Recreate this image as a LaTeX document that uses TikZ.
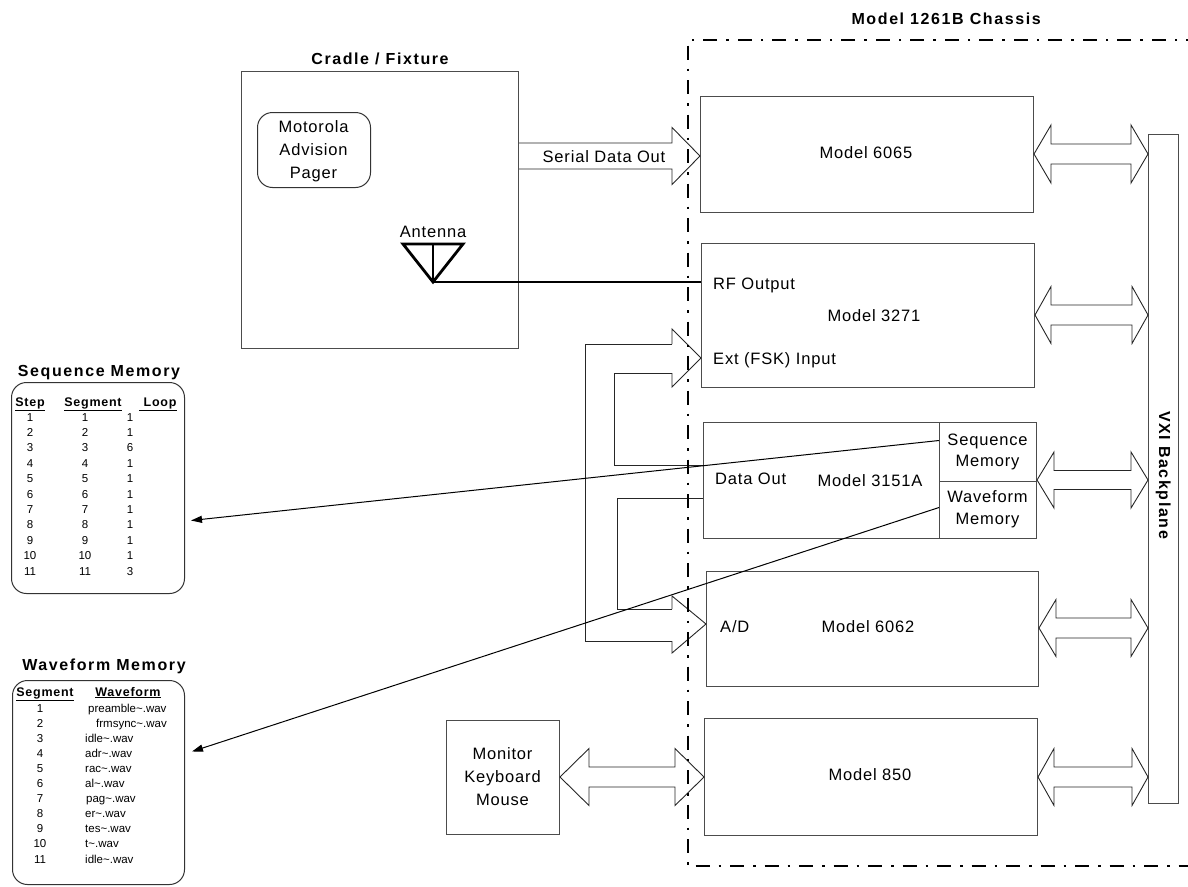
\documentclass[tikz,border=0pt]{standalone}
\usepackage{fontspec}
\setmainfont{Liberation Sans}
\newfontfamily\tfont[LetterSpace=5]{Liberation Sans}
\newfontfamily\hfont[LetterSpace=10]{Liberation Sans}
\newfontfamily\thfont[LetterSpace=6]{Liberation Sans}
\usetikzlibrary{arrows.meta,calc}
\tikzset{
  box/.style={draw=black!70, line width=1pt, rectangle, inner sep=0pt},
  rbox/.style={draw=black!80, line width=1pt, rectangle, rounded corners=15pt, inner sep=0pt},
  lbl/.style={font=\tfont\fontsize{16.5}{23}\selectfont, inner sep=0pt, align=center},
  slbl/.style={font=\tfont\fontsize{16.5}{23}\selectfont, inner sep=0pt, text height=12pt, text depth=3.5pt},
  ttl/.style={font=\hfont\bfseries\fontsize{16}{19}\selectfont, inner sep=0pt, text height=11.5pt, text depth=3.5pt},
  tab/.style={font=\fontsize{11.5}{14}\selectfont, inner sep=0pt, text height=8.5pt, text depth=2.5pt},
  th/.style={font=\thfont\bfseries\fontsize{12.5}{14}\selectfont, inner sep=0pt, text height=9pt, text depth=3pt},
  barrow/.style={draw=black!85, line width=0.9pt, line join=miter},
  wire/.style={draw=black!85, line width=0.9pt},
  chassis/.style={draw=black, line width=2pt, dash pattern=on 14pt off 9pt on 2.5pt off 9pt},
  memarrow/.style={draw=black, line width=1pt, -{Triangle[length=11pt,width=7pt]}},
}
\newcommand\dblarrow[5]{%
  \draw[barrow] let \p1=(#1), \p2=(#2) in
    (\x1,\y1) -- ({\x1+#3pt},{\y1+#4pt}) -- ({\x1+#3pt},{\y1+#5pt})
    -- ({\x2-#3pt},{\y1+#5pt}) -- ({\x2-#3pt},{\y1+#4pt}) -- (\x2,\y1)
    -- ({\x2-#3pt},{\y1-#4pt}) -- ({\x2-#3pt},{\y1-#5pt})
    -- ({\x1+#3pt},{\y1-#5pt}) -- ({\x1+#3pt},{\y1-#4pt}) -- cycle;}
\begin{document}
\begin{tikzpicture}[x=1pt,y=-1pt]
\useasboundingbox (0,0) rectangle (1188,886);

% ---------- Cradle / Fixture ----------
\node[ttl] (cradlettl) at (380,60) {Cradle / Fixture};
\node[box, anchor=north west, minimum width=277pt, minimum height=277pt] (cradle) at (241,71) {};
\node[rbox, anchor=north west, minimum width=113pt, minimum height=75pt, rounded corners=15pt] (pager) at (257,112) {};
\node[lbl] (pagertxt) at (313.5,151) {Motorola\\Advision\\Pager};
\node[slbl] (antlbl) at (433,233) {Antenna};
\coordinate (antL) at (403,244);
\coordinate (antR) at (463,244);
\coordinate (antB) at (433,282);
\coordinate (antT) at (433,244);
\draw[line width=2.8pt, line join=miter] (antL) -- (antR) -- (antB) -- cycle;
\draw[line width=2.6pt] (antT) -- (antB);

% ---------- Chassis modules ----------
\node[box, anchor=north west, minimum width=333pt, minimum height=116pt] (m6065) at (700,96) {};
\node[slbl] (m6065t) at (866,154) {Model 6065};

\node[box, anchor=north west, minimum width=333pt, minimum height=144pt] (m3271) at (701,243) {};
\node[slbl] (m3271t) at (874,317) {Model 3271};
\node[slbl, anchor=west] (rfout) at (713,285) {RF Output};
\node[slbl, anchor=west] (extin) at (713,360) {Ext (FSK) Input};

\node[box, anchor=north west, minimum width=236pt, minimum height=116pt] (m3151) at (703,422) {};
\node[box, anchor=north west, minimum width=97pt, minimum height=59pt] (seqcell) at (939,422) {};
\node[box, anchor=north west, minimum width=97pt, minimum height=57pt] (wavecell) at (939,481) {};
\node[lbl, font=\tfont\fontsize{16.5}{21}\selectfont] (seqcellt) at (987.5,452) {Sequence\\Memory};
\node[lbl, font=\tfont\fontsize{16.5}{22}\selectfont] (wavecellt) at (987.5,509) {Waveform\\Memory};
\node[slbl] (m3151t) at (870,482) {Model 3151A};
\node[slbl, anchor=west] (dataout) at (715,480) {Data Out};

\node[box, anchor=north west, minimum width=332pt, minimum height=115pt] (m6062) at (706,571) {};
\node[slbl] (m6062t) at (868,628) {Model 6062};
\node[slbl, anchor=west] (ad) at (720,628) {A/D};

\node[box, anchor=north west, minimum width=333pt, minimum height=117pt] (m850) at (704,718) {};
\node[slbl] (m850t) at (870,776) {Model 850};

\node[box, anchor=north west, minimum width=113pt, minimum height=114pt] (monitor) at (446,720) {};
\node[lbl] (monitort) at (502.5,777) {Monitor\\Keyboard\\Mouse};

\node[box, anchor=north west, minimum width=30pt, minimum height=669pt] (vxi) at (1148,134) {};
\node[ttl, rotate=-90] (vxit) at (1163,475) {VXI Backplane};

% ---------- RF cable ----------
\draw[line width=2.8pt] (antB) -- (antB -| m3271.west);

% ---------- Serial Data Out arrow ----------
\draw[barrow] let \p1=(cradle.east |- 0,156), \p2=(m6065.west |- 0,156) in
  (\x1,{\y1+13pt}) -- ({\x2-28pt},{\y1+13pt}) -- ({\x2-28pt},{\y1+28.5pt}) -- (\x2,\y1)
  -- ({\x2-28pt},{\y1-28.5pt}) -- ({\x2-28pt},{\y1-13pt}) -- (\x1,{\y1-13pt});
\node[slbl] (serial) at (604,158) {Serial Data Out};

% ---------- Data Out split arrow to Ext Input and A/D ----------
\coordinate (exttip) at (m3271.west |- 0,358);
\coordinate (adtip) at (m6062.west |- 0,624);
\draw[barrow] (672,344) -- (672,329) -- (exttip) -- (672,387) -- (672,373);
\draw[barrow] (672,609) -- (672,596) -- (adtip) -- (672,653) -- (672,641);
\draw[barrow] (672,344) -- (585,344) -- (585,641) -- (672,641);
\draw[barrow] (672,373) -- (614,373) -- (614,465) -- (m3151.west |- 0,465);
\draw[barrow] (672,609) -- (617,609) -- (617,498) -- (m3151.west |- 0,498);

% ---------- Backplane double arrows ----------
\dblarrow{m6065.east |- 0,154}{vxi.west |- 0,154}{17}{29}{10}
\dblarrow{m3271.east |- 0,315}{vxi.west |- 0,315}{16}{28.5}{10}
\dblarrow{seqcell.east |- 0,480}{vxi.west |- 0,480}{17}{28}{9.5}
\dblarrow{m6062.east |- 0,628}{vxi.west |- 0,628}{17}{28.5}{10}
\dblarrow{m850.east |- 0,777}{vxi.west |- 0,777}{16}{28.5}{10}
\dblarrow{monitor.east |- 0,777}{m850.west |- 0,777}{29}{28.5}{10}

% ---------- Chassis outline ----------
\begin{scope}
\clip (0,0) rectangle (1188,886);
\draw[chassis] (1200,40) -- (688,40) -- (688,866) -- (1200,866);
\end{scope}
\node[ttl, anchor=east] (chassisttl) at (1041,20) {Model 1261B Chassis};

% ---------- Sequence Memory panel ----------
\node[ttl] (seqttl) at (99,372) {Sequence Memory};
\node[rbox, anchor=north west, minimum width=173pt, minimum height=211pt] (seqpanel) at (11,382) {};
\node[th] (hstep) at (30,403) {\underline{Step}};
\node[th] (hseg) at (93,403) {\underline{Segment}};
\node[th] (hloop) at (158,403) {\underline{\ Loop}};
\foreach \l [count=\k] in {1,1,6,1,1,1,1,1,1,1,3} {
  \pgfmathsetmacro\yy{418+15.4*(\k-1)}
  \node[tab] (st\k) at (30,\yy) {\k};
  \node[tab] (sg\k) at (85,\yy) {\k};
  \node[tab] (lp\k) at (130,\yy) {\l};
}

% ---------- Waveform Memory panel ----------
\node[ttl] (wavettl) at (104,666) {Waveform Memory};
\node[rbox, anchor=north west, minimum width=172pt, minimum height=204pt] (wavepanel) at (12,680) {};
\node[th] (hwseg) at (45,693) {\underline{Segment}};
\node[th] (hwave) at (128,693) {\underline{Waveform}};
\foreach \w/\xx [count=\k] in {preamble/88,frmsync/96,idle/85,adr/85,rac/85,al/85,pag/86,er/85,tes/85,t/85,idle/85} {
  \pgfmathsetmacro\yy{709+15.1*(\k-1)}
  \node[tab] (ws\k) at (40,\yy) {\k};
  \node[tab, anchor=west] (wf\k) at (\xx,\yy) {\w\textasciitilde.wav};
}

% ---------- Memory pointers ----------
\draw[memarrow] ([yshift=11.5pt]seqcell.west) -- ([xshift=6pt,yshift=-32.5pt]seqpanel.east);
\draw[memarrow] ([yshift=2.5pt]wavecell.west) -- ([xshift=7pt,yshift=31pt]wavepanel.east);
\end{tikzpicture}
\end{document}
